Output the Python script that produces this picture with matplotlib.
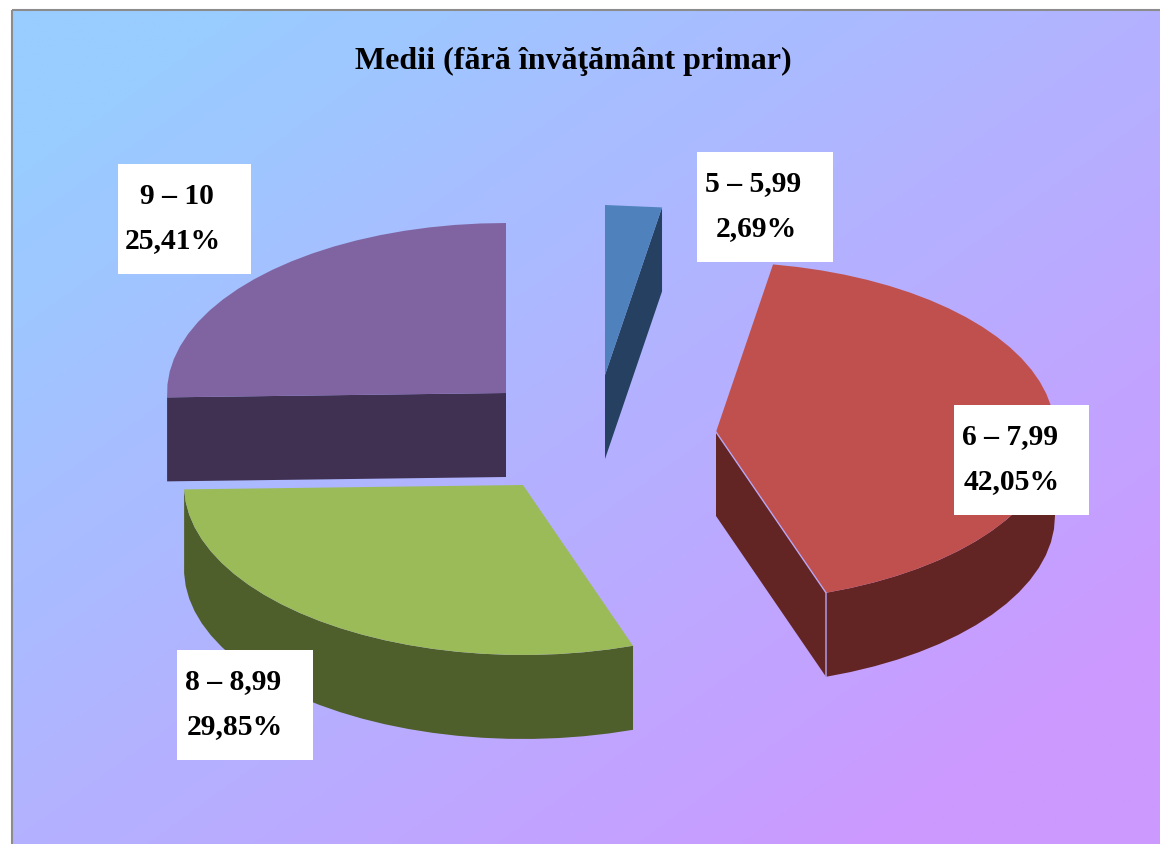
import matplotlib
matplotlib.use('Agg')
import matplotlib.pyplot as plt
import numpy as np
from matplotlib.colors import LinearSegmentedColormap
from matplotlib.patches import Polygon, Rectangle

title = 'Medii (fără învăţământ primar)'
categories = ['5 – 5,99', '6 – 7,99', '8 – 8,99', '9 – 10']
percents = [2.69, 42.05, 29.85, 25.41]

top_colors = ['#4f81bd', '#c0504d', '#9bbb59', '#8064a2']
side_colors = ['#254061', '#632523', '#4f5f2b', '#403152']

# pie geometry, in pixels of the 1160x845 picture
rx, ry, depth = 339, 170, 84
apex = [(605, 375), (716, 432), (523, 485), (506, 393)]
boxes = [(697, 152, 136, 110), (954, 405, 135, 110), (177, 650, 136, 110), (118, 164, 133, 110)]
name_xy = [(705, 190), (962, 443), (185, 688), (140, 203)]
pct_xy = [(716, 235), (964, 488), (187, 733), (125, 247)]

W, H = 1160, 845
fig = plt.figure(figsize=(W / 100, H / 100), dpi=100)
ax = fig.add_axes([0, 0, 1, 1])
ax.axis('off')

# diagonal background, flat for a bit at both corners
x0, y0 = 12, 10
xx, yy = np.meshgrid(np.linspace(0, 1, 400), np.linspace(0, 1, 300))
cmap = LinearSegmentedColormap.from_list('bg', ['#99ccff', '#cc99ff'])
grad = np.clip(((xx + yy) / 2 - 0.1) / 0.78, 0, 1)
ax.imshow(grad, cmap=cmap, extent=(x0, W, H, y0), aspect='auto', zorder=0)
ax.add_patch(Rectangle((x0, y0), W - x0 + 5, H - y0 + 5, fill=False, ec='#8c8c8c', lw=1.5, zorder=1))
ax.set_xlim(0, W)
ax.set_ylim(H - 1, -1)


def rim(c, t):
    return np.column_stack([c[0] + rx * np.sin(t), c[1] - ry * np.cos(t)])


def arc(a, b):
    # coarse steps, the original outline is a rough polygon too
    n = max(int(abs(b - a) / np.radians(4)), 2)
    return np.linspace(a, b, n)


edges = np.radians(np.cumsum([0] + percents) / sum(percents) * 360)
for i in [3, 2, 0, 1]:
    c = np.array(apex[i])
    t0, t1 = edges[i], edges[i + 1]
    down = np.array([0, depth])
    # cut faces turned towards the viewer
    if 0 < t1 < np.pi:
        p = rim(c, np.array([t1]))[0]
        ax.add_patch(Polygon([c, p, p + down, c + down], fc=side_colors[i], ec='none', zorder=2))
    if np.pi < t0 < 2 * np.pi:
        p = rim(c, np.array([t0]))[0]
        ax.add_patch(Polygon([c, p, p + down, c + down], fc=side_colors[i], ec='none', zorder=2))
    # outer wall, lower half of the ellipse only
    a, b = max(t0, np.pi / 2), min(t1, 3 * np.pi / 2)
    if a < b:
        pts = rim(c, arc(a, b))
        ax.add_patch(Polygon(np.vstack([pts, pts[::-1] + down]), fc=side_colors[i], ec='none', zorder=2))
    # top face
    pts = rim(c, arc(t0, t1))
    ax.add_patch(Polygon(np.vstack([c, pts]), fc=top_colors[i], ec='none', zorder=3))
    if i == 1:
        p = rim(c, np.array([t1]))[0]
        ax.plot([c[0], p[0], p[0]], [c[1], p[1], p[1] + depth], color='#b9a6f5', lw=1, zorder=4)

font = dict(family='Liberation Serif', fontweight='bold', color='black', zorder=6)
ax.text(573, 68, title, ha='center', va='baseline', fontsize=23, **font)
for i in range(4):
    ax.add_patch(Rectangle(boxes[i][:2], boxes[i][2], boxes[i][3], fc='white', ec='none', zorder=5))
    ax.text(*name_xy[i], categories[i], ha='left', va='baseline', fontsize=21.3, **font)
    pct = f'{percents[i]:.2f}%'.replace('.', ',')
    ax.text(*pct_xy[i], pct, ha='left', va='baseline', fontsize=21.3, **font)

fig.savefig('out.png', dpi=100)
